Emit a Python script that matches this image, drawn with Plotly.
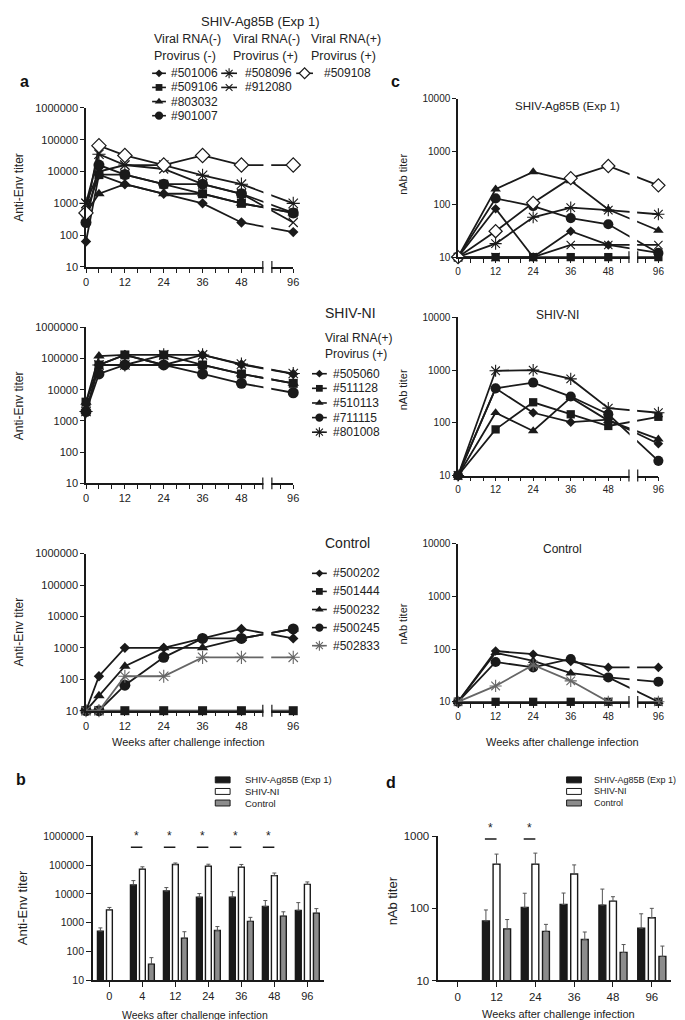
import plotly.graph_objects as go

W, H = 685, 1020
INK = '#1a1a1a'
GRAYINK = '#666666'
FONT = 'Liberation Sans, Arial, Helvetica, sans-serif'

# ---------------- data ----------------
weeks_env = [0, 4, 12, 24, 36, 48, 96]
weeks_nab = [0, 12, 24, 36, 48, 96]
week_labels = [0, 12, 24, 36, 48, 96]

ag85b_ids = ['#501006', '#509106', '#803032', '#901007', '#508096', '#912080', '#509108']
ag85b_marks = ['diamond', 'square', 'triangle', 'circle', 'asterisk', 'x', 'open_diamond']
ni_ids = ['#505060', '#511128', '#510113', '#711115', '#801008']
ni_marks = ['diamond', 'square', 'triangle', 'circle', 'asterisk']
ctrl_ids = ['#500202', '#501444', '#500232', '#500245', '#502833']
ctrl_marks = ['diamond', 'square', 'triangle', 'circle', 'asterisk']

# anti-Env titers (weeks_env)
env_ag85b = [
    [63, 8000, 4000, 2000, 1000, 250, 125],
    [500, 8000, 8000, 4000, 2000, 1000, 500],
    [500, 2000, 4000, 2000, 2000, 1000, 500],
    [250, 16000, 8000, 4000, 4000, 2000, 500],
    [1000, 35000, 16000, 16000, 7600, 4000, 1000],
    [1000, 10000, 16000, 12000, 4000, 2000, 250],
    [500, 65000, 32000, 16000, 32000, 16000, 16000],
]
env_ni = [
    [2000, 62000, 130000, 62000, 130000, 64000, 32000],
    [4000, 62000, 130000, 130000, 62000, 32000, 16000],
    [4000, 120000, 130000, 62000, 62000, 32000, 16000],
    [2000, 32000, 62000, 62000, 32000, 16000, 8000],
    [2000, 62000, 62000, 130000, 130000, 66000, 33000],
]
env_ctrl = [
    [10, 125, 1000, 1000, 2000, 4000, 2000],
    [10, 10, 10, 10, 10, 10, 10],
    [10, 30, 260, 1000, 1000, 2000, 4000],
    [10, 10, 65, 500, 2000, 2000, 4000],
    [10, 10, 125, 125, 500, 500, 500],
]

# nAb titers (weeks_nab)
nab_ag85b = [
    [10, 83, 10, 31, 17, 12],
    [10, 10, 10, 10, 10, 10],
    [10, 195, 415, 280, 80, 32],
    [10, 130, 93, 55, 42, 12],
    [10, 18, 57, 87, 78, 65],
    [10, 10, 10, 17, 17, 17],
    [10, 31, 107, 315, 535, 230],
]
nab_ni = [
    [10, 450, 155, 103, 115, 40],
    [10, 75, 245, 145, 87, 130],
    [10, 155, 70, 300, 110, 49],
    [10, 450, 580, 315, 145, 19],
    [10, 970, 1000, 680, 190, 155],
]
nab_ctrl = [
    [10, 92, 80, 58, 45, 45],
    [10, 10, 10, 10, 10, 10],
    [10, 85, 60, 35, 29, 10],
    [10, 57, 45, 65, 29, 24],
    [10, 20, 50, 25, 10, 10],
]

# group means (+ upper error) for bar panels
bar_env_weeks = ['0', '4', '12', '24', '36', '48', '96']
bar_env_ag85b = [515, 20500, 12600, 7700, 7700, 3700, 2700]
bar_env_ag85b_hi = [665, 29000, 16600, 10300, 12000, 5900, 5000]
bar_env_ni = [2800, 72000, 105000, 91000, 84000, 43000, 21500]
bar_env_ni_hi = [3400, 87000, 118000, 107000, 105000, 53000, 26000]
bar_env_ctrl = [None, 37, 290, 540, 1120, 1700, 2150]
bar_env_ctrl_hi = [None, 62, 490, 740, 1540, 2400, 3100]
bar_env_sig = ['4', '12', '24', '36', '48']

bar_nab_weeks = ['0', '12', '24', '36', '48', '96']
bar_nab_ag85b = [None, 67, 103, 113, 111, 53]
bar_nab_ag85b_hi = [None, 95, 162, 163, 185, 84]
bar_nab_ni = [None, 408, 408, 300, 126, 74]
bar_nab_ni_hi = [None, 565, 583, 400, 145, 100]
bar_nab_ctrl = [None, 52, 48, 37, 24.5, 21.6]
bar_nab_ctrl_hi = [None, 70, 60, 47, 31.5, 30]
bar_nab_sig = ['12', '24']

group_names = ['SHIV-Ag85B (Exp 1)', 'SHIV-NI', 'Control']
group_fills = [INK, 'white', '#8c8c8c']

# ---------------- helpers ----------------
fig = go.Figure()
annotations = []
shapes = []
layout_axes = {}


def dom_x(x0, x1):
    return [x0 / W, x1 / W]


def dom_y(top, bottom):
    return [1 - bottom / H, 1 - top / H]


def wpos(w):
    # broken time axis: week 96 is drawn just after the break
    return w if w <= 48 else 64


def mstyle(kind, scale=1.0, color=INK):
    base = {
        'diamond': ('diamond', 8, 'fill'),
        'square': ('square', 9, 'fill'),
        'triangle': ('triangle-up', 10, 'fill'),
        'circle': ('circle', 11, 'fill'),
        'asterisk': ('asterisk-open', 11, 'open'),
        'x': ('x-thin-open', 9, 'open'),
        'open_diamond': ('diamond', 11, 'white'),
    }
    sym, size, mode = base[kind]
    if mode == 'fill':
        return dict(symbol=sym, size=size * scale, color=color, line=dict(width=0))
    if mode == 'open':
        return dict(symbol=sym, size=size * scale, color=color, line=dict(width=1.1, color=color))
    return dict(symbol=sym, size=size * scale, color='white', line=dict(width=1.2, color=color))


def note(x, y, text, size, xanchor='center', angle=0):
    annotations.append(dict(xref='x9', yref='y9', x=x, y=y, text=text, showarrow=False,
                            xanchor=xanchor, yanchor='middle', textangle=angle,
                            font=dict(size=size, family=FONT, color='#222')))


def paper_y(dom, rng, logv):
    return dom[0] + (logv - rng[0]) / (rng[1] - rng[0]) * (dom[1] - dom[0])


axis_base = dict(showline=True, linecolor=INK, linewidth=1.5, ticks='outside', ticklen=4,
                 tickwidth=1.2, tickcolor=INK, showgrid=False, zeroline=False, fixedrange=True)

# ---------------- line panels (a, c) ----------------
ctrl_colors = [INK, INK, INK, INK, GRAYINK]
line_panels = [
    ('', weeks_env, ag85b_ids, ag85b_marks, [INK] * 7, env_ag85b, (76, 286, 95, 256), (1, 6), 11, 1.0),
    ('2', weeks_env, ni_ids, ni_marks, [INK] * 5, env_ni, (76, 286, 317, 475), (1, 6), 11, 1.0),
    ('3', weeks_env, ctrl_ids, ctrl_marks, ctrl_colors, env_ctrl, (76, 286, 546, 705), (1, 6), 11, 1.0),
    ('4', weeks_nab, ag85b_ids, ag85b_marks, [INK] * 7, nab_ag85b, (453, 656, 86, 246), (1, 4), 10, 0.92),
    ('5', weeks_nab, ni_ids, ni_marks, [INK] * 5, nab_ni, (453, 656, 307, 467), (1, 4), 10, 0.92),
    ('6', weeks_nab, ctrl_ids, ctrl_marks, ctrl_colors, nab_ctrl, (453, 656, 536, 696), (1, 4), 10, 0.92),
]

tickpos = list(range(0, 65, 4))
lab = {wpos(w): str(w) for w in week_labels}
for sfx, weeks, ids, marks, colors, vals, box, yr, fsize, mscale in line_panels:
    x0, x1, top, bot = box
    xd, yd = dom_x(x0, x1), dom_y(top, bot)
    layout_axes['xaxis' + sfx] = dict(axis_base, domain=xd, range=[0, 64], anchor='y' + sfx,
                                      tickmode='array', tickvals=tickpos,
                                      ticktext=[lab.get(t, '') for t in tickpos],
                                      tickfont=dict(size=fsize, family=FONT, color='#222'))
    exps = list(range(yr[0], yr[1] + 1))
    layout_axes['yaxis' + sfx] = dict(axis_base, domain=yd, type='log', range=list(yr), anchor='x' + sfx,
                                      tickmode='array', tickvals=[10 ** e for e in exps],
                                      ticktext=[str(10 ** e) for e in exps],
                                      tickfont=dict(size=fsize, family=FONT, color='#222'))
    for i, aid in enumerate(ids):
        fig.add_trace(go.Scatter(
            x=[wpos(w) for w in weeks], y=vals[i], mode='lines+markers', name=aid,
            line=dict(color=colors[i], width=1.8), marker=mstyle(marks[i], mscale, colors[i]),
            xaxis='x' + sfx, yaxis='y' + sfx, cliponaxis=False, showlegend=False, hoverinfo='skip'))
    shapes.append(dict(type='rect', xref='x' + sfx, yref='paper', x0=54.8, x1=57.2,
                       y0=yd[0] - 9 / H, y1=yd[1] + 2 / H, fillcolor='white',
                       line=dict(width=0), layer='above'))
    for xb in (54.6, 57.4):
        shapes.append(dict(type='line', xref='x' + sfx, yref='paper', x0=xb, x1=xb,
                           y0=yd[0] - 6 / H, y1=yd[0] + 6 / H,
                           line=dict(color=INK, width=1.2), layer='above'))

# ---------------- bar panels (b, d) ----------------
bar_panels = [
    ('7', bar_env_weeks, [bar_env_ag85b, bar_env_ni, bar_env_ctrl],
     [bar_env_ag85b_hi, bar_env_ni_hi, bar_env_ctrl_hi], bar_env_sig,
     (83, 317, 832, 978), (1, 6), 10.5, 11, 0.35, 5.62, 5.94),
    ('8', bar_nab_weeks, [bar_nab_ag85b, bar_nab_ni, bar_nab_ctrl],
     [bar_nab_ag85b_hi, bar_nab_ni_hi, bar_nab_ctrl_hi], bar_nab_sig,
     (433, 669, 832, 978), (1, 3), 11.5, 11.5, 0.30, 2.963, 3.09),
]
for sfx, cats, means, highs, sig, box, yr, yfs, xfs, sigw, sig_line, sig_star in bar_panels:
    x0, x1, top, bot = box
    xd, yd = dom_x(x0, x1), dom_y(top, bot)
    layout_axes['xaxis' + sfx] = dict(axis_base, domain=xd, type='category', categoryorder='array',
                                      categoryarray=cats, range=[-0.5, len(cats) - 0.5],
                                      anchor='y' + sfx, ticklen=5,
                                      tickfont=dict(size=xfs, family=FONT, color='#222'))
    exps = list(range(yr[0], yr[1] + 1))
    layout_axes['yaxis' + sfx] = dict(axis_base, domain=yd, type='log', range=list(yr), anchor='x' + sfx,
                                      tickmode='array', tickvals=[10 ** e for e in exps],
                                      ticktext=[str(10 ** e) for e in exps], ticklen=5,
                                      tickfont=dict(size=yfs, family=FONT, color='#222'))
    for g in range(3):
        m, hi = means[g], highs[g]
        err = [(h - v) if (v is not None and h is not None) else 0 for v, h in zip(m, hi)]
        fig.add_trace(go.Bar(
            x=cats, y=m, name=group_names[g], xaxis='x' + sfx, yaxis='y' + sfx,
            marker=dict(color=group_fills[g], line=dict(color=INK, width=1.4)),
            error_y=dict(type='data', array=err, arrayminus=[0] * len(err), symmetric=False,
                         color='#555555', thickness=1, width=2),
            showlegend=False, hoverinfo='skip'))
    yl = paper_y(yd, yr, sig_line)
    ys = paper_y(yd, yr, sig_star)
    for c in sig:
        i = cats.index(c)
        shapes.append(dict(type='line', xref='x' + sfx, yref='paper', x0=i - sigw, x1=i,
                           y0=yl, y1=yl, line=dict(color=INK, width=1.5)))
        annotations.append(dict(xref='x' + sfx, yref='paper', x=i - sigw / 2, y=ys + 2 / H,
                                text='*', showarrow=False, xanchor='center', yanchor='middle',
                                font=dict(size=12, family=FONT, color='#222')))

# ---------------- legends / labels (overlay in figure pixels) ----------------
layout_axes['xaxis9'] = dict(domain=[0, 1], range=[0, W], visible=False, anchor='y9', fixedrange=True)
layout_axes['yaxis9'] = dict(domain=[0, 1], range=[H, 0], visible=False, anchor='x9', fixedrange=True)


def legend_key(xa, xb, y, kind, color, scale=0.75):
    fig.add_trace(go.Scatter(x=[xa, xb], y=[y, y], mode='lines', line=dict(color=color, width=1.6),
                             xaxis='x9', yaxis='y9', showlegend=False, hoverinfo='skip', cliponaxis=False))
    fig.add_trace(go.Scatter(x=[(xa + xb) / 2], y=[y], mode='markers', marker=mstyle(kind, scale, color),
                             xaxis='x9', yaxis='y9', showlegend=False, hoverinfo='skip', cliponaxis=False))


def legend_column(ids, marks, colors, xa, xb, xt, y0, dy, fsize):
    for i, aid in enumerate(ids):
        y = y0 + i * dy
        legend_key(xa, xb, y, marks[i], colors[i])
        note(xt, y, aid, fsize, xanchor='left')


# panel a, SHIV-Ag85B legend
note(253, 8, 'SHIV-Ag85B (Exp 1)', 13)
for xh, l1, l2 in [(143, 'Viral RNA(-)', 'Provirus (-)'), (223, 'Viral RNA(-)', 'Provirus (+)'),
                   (302, 'Viral RNA(+)', 'Provirus (+)')]:
    note(xh, 25, l1, 12.5, xanchor='left')
    note(xh, 42, l2, 12.5, xanchor='left')
legend_column(ag85b_ids[0:4], ag85b_marks[0:4], [INK] * 4, 143, 157, 160, 60, 14.3, 12)
legend_column(ag85b_ids[4:6], ag85b_marks[4:6], [INK] * 2, 213, 229, 235, 60, 14.3, 12)
legend_column(ag85b_ids[6:7], ag85b_marks[6:7], [INK], 289, 306, 315, 60, 14.3, 12)

# SHIV-NI legend
note(316, 303, 'SHIV-NI', 14, xanchor='left')
note(316, 328, 'Viral RNA(+)', 12, xanchor='left')
note(316, 344, 'Provirus (+)', 12, xanchor='left')
legend_column(ni_ids, ni_marks, [INK] * 5, 305, 320, 324, 364, 14.8, 12)

# Control legend
note(316, 535, 'Control', 14, xanchor='left')
legend_column(ctrl_ids, ctrl_marks, ctrl_colors, 305, 320, 324, 566, 18.3, 12)

# bar legends
for xs, xt, fs in [(207, 235, 9.5), (563, 589, 9)]:
    for g in range(3):
        yc = 775 + g * 11.7
        shapes.append(dict(type='rect', xref='x9', yref='y9', x0=xs, x1=xs + 15, y0=yc - 3, y1=yc + 3,
                           fillcolor=group_fills[g], line=dict(color=INK, width=1)))
        note(xt, yc, group_names[g], fs, xanchor='left')

# panel letters
for x, y, t in [(7, 68, 'a'), (383, 68, 'c'), (3, 775, 'b'), (378, 778, 'd')]:
    annotations.append(dict(xref='x9', yref='y9', x=x, y=y, text='<b>%s</b>' % t, showarrow=False,
                            xanchor='left', yanchor='middle',
                            font=dict(size=16, family=FONT, color='#111')))

# axis titles
for yc in (175, 396, 625):
    note(8, yc, 'Anti-Env titer', 12, angle=-90)
for yc in (162, 380, 617):
    note(397, yc, 'nAb titer', 11, angle=-90)
note(180, 737, 'Weeks after challenge infection', 11)
note(559, 737, 'Weeks after challenge infection', 11)
note(12, 904, 'Anti-Env titer', 13, angle=-90)
note(186, 1013, 'Weeks after challenge infection', 10.5)
note(387, 897, 'nAb titer', 13, angle=-90)
note(555, 1012, 'Weeks after challenge infection', 11)

# c panel titles
note(564, 93, 'SHIV-Ag85B (Exp 1)', 11.5)
note(554, 305, 'SHIV-NI', 12)
note(559, 541, 'Control', 12)

fig.update_layout(
    width=W, height=H, margin=dict(l=0, r=0, t=0, b=0),
    paper_bgcolor='white', plot_bgcolor='rgba(0,0,0,0)',
    showlegend=False, barmode='group', bargap=0.18, bargroupgap=0.35,
    font=dict(family=FONT, color='#222'),
    annotations=annotations, shapes=shapes,
    **layout_axes,
)

fig.write_html('out.html')
